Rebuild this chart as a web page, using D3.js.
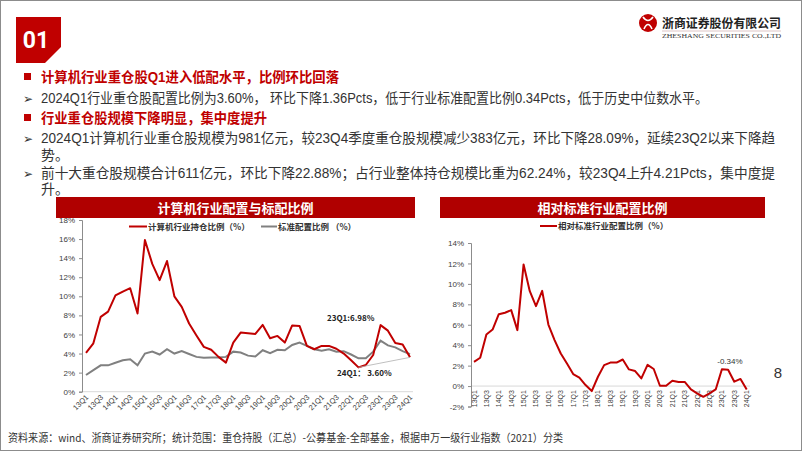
<!DOCTYPE html>
<html><head><meta charset="utf-8">
<script src="https://cdn.jsdelivr.net/npm/d3@7"></script>
<style>
body{margin:0;background:#fff;}
svg{display:block;font-family:"Noto Sans CJK SC","Noto Sans",sans-serif;}
</style></head>
<body><svg id="c" width="802" height="451"></svg>
<script>
const quarters = [];
for (let y = 13; y <= 24; y++) for (let q = 1; q <= 4; q++) { if (y === 24 && q > 1) break; quarters.push(y + "Q" + q); }
const holdingRatio = [4.08,5.07,7.85,8.4,10.1,10.5,10.85,8.2,15.9,13.4,11.7,13.7,10.0,8.9,7.15,5.9,4.7,4.4,3.65,3.05,5.15,6.2,6.12,6.05,7.0,5.6,5.85,5.15,6.95,6.9,4.8,4.45,4.8,4.8,4.5,4.0,3.3,2.55,2.8,3.85,6.98,6.4,5.1,4.95,3.60];
const standardRatio = [1.75,2.27,2.76,2.76,3.04,3.3,3.4,2.76,4.0,4.2,3.9,4.45,4.0,4.25,3.95,3.65,3.55,3.58,3.58,3.65,4.2,4.1,3.78,3.7,4.35,4.05,4.4,4.35,4.9,5.15,4.8,4.45,4.3,4.45,4.2,4.25,3.9,3.5,3.5,4.2,5.35,4.85,4.65,4.25,3.94];
const relativeRatio = [2.37,2.77,5.05,5.53,7.03,7.17,7.43,5.47,11.9,9.28,7.82,9.32,6.02,4.5,3.19,2.2,1.17,0.82,0.1,-0.49,0.91,2.05,2.3,2.3,2.6,1.63,1.47,0.75,2.08,1.67,0.03,0.03,0.52,0.4,0.4,-0.33,-0.72,-1.05,-0.72,-0.33,1.65,1.6,0.43,0.7,-0.34];
const leftTicks = [0,2,4,6,8,10,12,14,16,18];
const rightTicks = [-2,0,2,4,6,8,10,12,14];

const RED = "#c00000", GREY = "#808080", TXT = "#333";
const BODYFONT = '"Liberation Sans","Noto Sans CJK SC",sans-serif';
const svg = d3.select("#c");
svg.append("rect").attr("x",0.5).attr("y",0.5).attr("width",801).attr("height",450).attr("fill","#fff").attr("stroke","#8c8c8c");

// "01" box
svg.append("polygon").attr("points","16,17 61,17 61,47 45,63 16,63").attr("fill",RED);
svg.append("text").attr("x",36).attr("y",48).attr("text-anchor","middle").attr("fill","#fff")
  .attr("font-size",23).attr("font-weight",700).attr("font-family","Liberation Sans Narrow, Roboto, sans-serif").text("01");

// logo
svg.append("circle").attr("cx",648).attr("cy",23).attr("r",9).attr("fill",RED);
svg.append("path").attr("d","M643,17 Q648,24 653,17 M644,29 Q648,20 652,29").attr("stroke","#fff").attr("stroke-width",1.6).attr("fill","none");
svg.append("text").attr("x",662).attr("y",28).attr("font-size",12.5).attr("font-weight",700).attr("fill","#222")
  .attr("textLength",119).attr("lengthAdjust","spacingAndGlyphs").text("浙商证券股份有限公司");
svg.append("line").attr("x1",662).attr("x2",781).attr("y1",31).attr("y2",31).attr("stroke","#c8a0a0").attr("stroke-width",0.6);
svg.append("text").attr("x",662).attr("y",38).attr("font-size",6).attr("fill","#333").attr("font-family","Liberation Serif, serif")
  .attr("textLength",119).attr("lengthAdjust","spacingAndGlyphs").text("ZHESHANG SECURITIES CO.,LTD");

// text block
const lines = [
  {t:"计算机行业重仓股Q1进入低配水平，比例环比回落", y:77, h:true, w:298},
  {t:"2024Q1行业重仓股配置比例为3.60%， 环比下降1.36Pcts，低于行业标准配置比例0.34Pcts，低于历史中位数水平。", y:98, b:true, w:667},
  {t:"行业重仓股规模下降明显，集中度提升", y:118, h:true, w:226},
  {t:"2024Q1计算机行业重仓股规模为981亿元，较23Q4季度重仓股规模减少383亿元，环比下降28.09%，延续23Q2以来下降趋", y:138, b:true, w:734},
  {t:"势。", y:155, w:0},
  {t:"前十大重仓股规模合计611亿元，环比下降22.88%；占行业整体持仓规模比重为62.24%，较23Q4上升4.21Pcts，集中度提", y:173, b:true, w:734},
  {t:"升。", y:189, w:0}
];
lines.forEach(l => {
  if (l.h) svg.append("rect").attr("x",24).attr("y",l.y-4).attr("width",7).attr("height",7).attr("fill",RED);
  if (l.b) svg.append("text").attr("x",23).attr("y",l.y+5).attr("font-size",12).attr("fill",TXT).attr("font-family","DejaVu Sans, sans-serif").text("➢");
  const t = svg.append("text").attr("x",41).attr("y",l.y+5).attr("font-size",14).attr("font-family",BODYFONT)
    .attr("fill", l.h ? RED : TXT).attr("font-weight", l.h ? 700 : 400).text(l.t);
  if (l.w) t.attr("textLength",l.w).attr("lengthAdjust","spacingAndGlyphs");
});

// title bars
function titleBar(x0,x1,label){
  svg.append("rect").attr("x",x0).attr("y",197).attr("width",x1-x0).attr("height",21).attr("fill","#b00000");
  svg.append("text").attr("x",(x0+x1)/2).attr("y",212.5).attr("text-anchor","middle").attr("fill","#fff")
    .attr("font-size",13).attr("font-weight",700).text(label);
}
titleBar(56,415,"计算机行业配置与标配比例");
titleBar(440,765,"相对标准行业配置比例");

// LEFT CHART
const xL = d3.scalePoint().domain(quarters).range([86,410]);
const yL = d3.scaleLinear().domain([0,18]).range([391.7,220]);
const gL = svg.append("g");
gL.append("line").attr("x1",82).attr("x2",413).attr("y1",yL(0)).attr("y2",yL(0)).attr("stroke","#d9d9d9");
const axL = gL.append("g").attr("transform","translate(82,0)").call(d3.axisLeft(yL).tickValues(leftTicks).tickFormat(d=>d+"%").tickSize(3).tickPadding(4));
axL.selectAll("path,line").attr("stroke","#8c8c8c");
axL.selectAll("text").attr("font-size",8).attr("fill","#404040").attr("font-family","Liberation Sans, Arial, sans-serif");
quarters.forEach((q,i)=>{ if(i%2===0) gL.append("text").attr("transform",`translate(${xL(q)+3},${yL(0)+6}) rotate(-45)`)
  .attr("text-anchor","end").attr("font-size",7.5).attr("fill","#404040").attr("font-family","Liberation Sans, Arial, sans-serif").text(q); });
const lineL = arr => d3.line().x((d,i)=>xL(quarters[i])).y(d=>yL(d))(arr);
gL.append("path").attr("d",lineL(standardRatio)).attr("fill","none").attr("stroke",GREY).attr("stroke-width",2);
gL.append("path").attr("d",lineL(holdingRatio)).attr("fill","none").attr("stroke",RED).attr("stroke-width",2).attr("stroke-linejoin","round");
gL.append("line").attr("x1",xL(quarters[37])).attr("y1",yL(holdingRatio[37])).attr("x2",xL(quarters[44])).attr("y2",yL(holdingRatio[44]))
  .attr("stroke","#b0b0b0").attr("stroke-width",0.8);
gL.append("text").attr("x",327).attr("y",321).attr("font-size",8).attr("font-weight",700).attr("fill","#222").text("23Q1:6.98%");
gL.append("text").attr("x",337).attr("y",376).attr("font-size",8).attr("font-weight",700).attr("fill","#222").text("24Q1： 3.60%");
// legend
gL.append("line").attr("x1",129).attr("x2",147).attr("y1",226.5).attr("y2",226.5).attr("stroke",RED).attr("stroke-width",2);
gL.append("text").attr("x",148).attr("y",229.5).attr("font-size",8.5).attr("font-weight",700).attr("fill","#333").text("计算机行业持仓比例（%）");
gL.append("line").attr("x1",261).attr("x2",277).attr("y1",226.5).attr("y2",226.5).attr("stroke",GREY).attr("stroke-width",2);
gL.append("text").attr("x",278).attr("y",229.5).attr("font-size",8.5).attr("font-weight",700).attr("fill","#333").text("标准配置比例 （%）");

// RIGHT CHART
const xR = d3.scalePoint().domain(quarters).range([474,746.7]);
const yR = d3.scaleLinear().domain([-2,14]).range([406.5,243]);
const gR = svg.append("g");
gR.append("line").attr("x1",471).attr("x2",750).attr("y1",yR(0)).attr("y2",yR(0)).attr("stroke","#d9d9d9");
const axR = gR.append("g").attr("transform","translate(471,0)").call(d3.axisLeft(yR).tickValues(rightTicks).tickFormat(d=>d+"%").tickSize(3).tickPadding(4));
axR.selectAll("path,line").attr("stroke","#8c8c8c");
axR.selectAll("text").attr("font-size",8).attr("fill","#404040").attr("font-family","Liberation Sans, Arial, sans-serif");
quarters.forEach((q,i)=>{ if(i%2===0) gR.append("text").attr("transform",`translate(${xR(q)+2.5},${yR(0)+4}) rotate(-90)`)
  .attr("text-anchor","end").attr("font-size",7).attr("fill","#404040").attr("font-family","Liberation Sans, Arial, sans-serif").text(q); });
const lineR = d3.line().x((d,i)=>xR(quarters[i])).y(d=>yR(d));
gR.append("path").attr("d",lineR(relativeRatio)).attr("fill","none").attr("stroke",RED).attr("stroke-width",2).attr("stroke-linejoin","round");
gR.append("text").attr("x",xR(quarters[40])+8).attr("y",364).attr("text-anchor","middle").attr("font-size",8).attr("fill","#333")
  .attr("font-family","Liberation Sans, Arial, sans-serif").text("-0.34%");
gR.append("line").attr("x1",540).attr("x2",557).attr("y1",226).attr("y2",226).attr("stroke",RED).attr("stroke-width",2);
gR.append("text").attr("x",558).attr("y",229).attr("font-size",8.5).attr("font-weight",700).attr("fill","#333").text("相对标准行业配置比例（%）");

// page number & footer
svg.append("text").attr("x",778).attr("y",378).attr("text-anchor","middle").attr("font-size",15).attr("fill","#333").attr("font-family","Liberation Sans, Arial, sans-serif").text("8");
svg.append("text").attr("x",8).attr("y",442).attr("font-size",11).attr("fill",TXT).attr("textLength",555).attr("lengthAdjust","spacingAndGlyphs")
  .text("资料来源：wind、浙商证券研究所；统计范围：重仓持股（汇总）-公募基金-全部基金，根据申万一级行业指数（2021）分类");
</script></body></html>
